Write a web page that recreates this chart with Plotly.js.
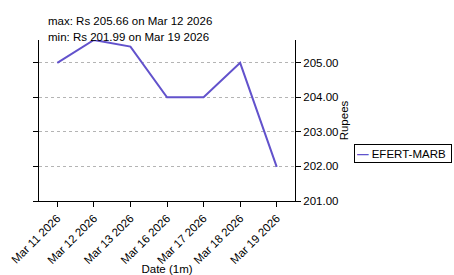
<!DOCTYPE html>
<html>
<head>
<meta charset="utf-8">
<script src="https://cdn.plot.ly/plotly-3.0.1.min.js"></script>
<style>html,body{margin:0;padding:0;background:#fff;}#chart{width:454px;height:275px;}</style>
</head>
<body>
<div id="chart"></div>
<script>
const dates = ["Mar 11 2026","Mar 12 2026","Mar 13 2026","Mar 16 2026","Mar 17 2026","Mar 18 2026","Mar 19 2026"];
const prices = [205.00, 205.66, 205.47, 204.00, 204.00, 205.00, 201.99];
const seriesName = "EFERT-MARB";
const maxText = "max: Rs 205.66 on Mar 12 2026";
const minText = "min: Rs 201.99 on Mar 19 2026";
const lineColor = "#6252cc";

const fs = 11.5;
const font = {family: "Liberation Sans, Arial, sans-serif", size: fs, color: "#000"};
const trace = {
  x: dates, y: prices, type: "scatter", mode: "lines", name: seriesName,
  line: {color: lineColor, width: 2}, showlegend: false
};
const layout = {
  width: 454, height: 275,
  margin: {l: 39, r: 159, t: 40, b: 74, autoexpand: false},
  paper_bgcolor: "#fff", plot_bgcolor: "#fff",
  font: font,
  showlegend: false,
  xaxis: {
    type: "category", range: [-0.5, 6.5], tickangle: -45,
    ticks: "outside", ticklen: 5, tickcolor: "#000",
    showline: true, linecolor: "#000", linewidth: 1, showgrid: false, zeroline: false,
    title: {text: "Date (1m)", font: {size: fs}, standoff: 0}
  },
  yaxis: {
    side: "right", range: [201, 205.66], dtick: 1, tick0: 201, tickformat: ".2f",
    ticks: "outside", ticklen: 5, tickcolor: "#000",
    showline: true, linecolor: "#000", linewidth: 1, mirror: "ticks",
    showgrid: true, gridcolor: "#b4b4b4", griddash: "dot", gridwidth: 1, zeroline: false,
    title: {text: "Rupees", font: {size: fs}, standoff: 1}
  },
  annotations: [
    {xref: "paper", yref: "paper", x: 0.027, y: 1.118, xanchor: "left", yanchor: "middle", text: maxText, showarrow: false, font: {size: fs}},
    {xref: "paper", yref: "paper", x: 0.027, y: 1.019, xanchor: "left", yanchor: "middle", text: minText, showarrow: false, font: {size: fs}},
    {xref: "paper", yref: "paper", x: (354 - 39) / 255.7, y: (201 - 144) / 161, xanchor: "left", yanchor: "top",
     text: "<b><span style='color:" + lineColor + "'>—</span></b> " + seriesName, showarrow: false,
     bordercolor: "#000", borderwidth: 1, borderpad: 2, width: 92, height: 13, align: "left",
     bgcolor: "#fff", font: {size: fs}}
  ]
};
Plotly.newPlot("chart", [trace], layout, {displayModeBar: false, staticPlot: true});
</script>
</body>
</html>
